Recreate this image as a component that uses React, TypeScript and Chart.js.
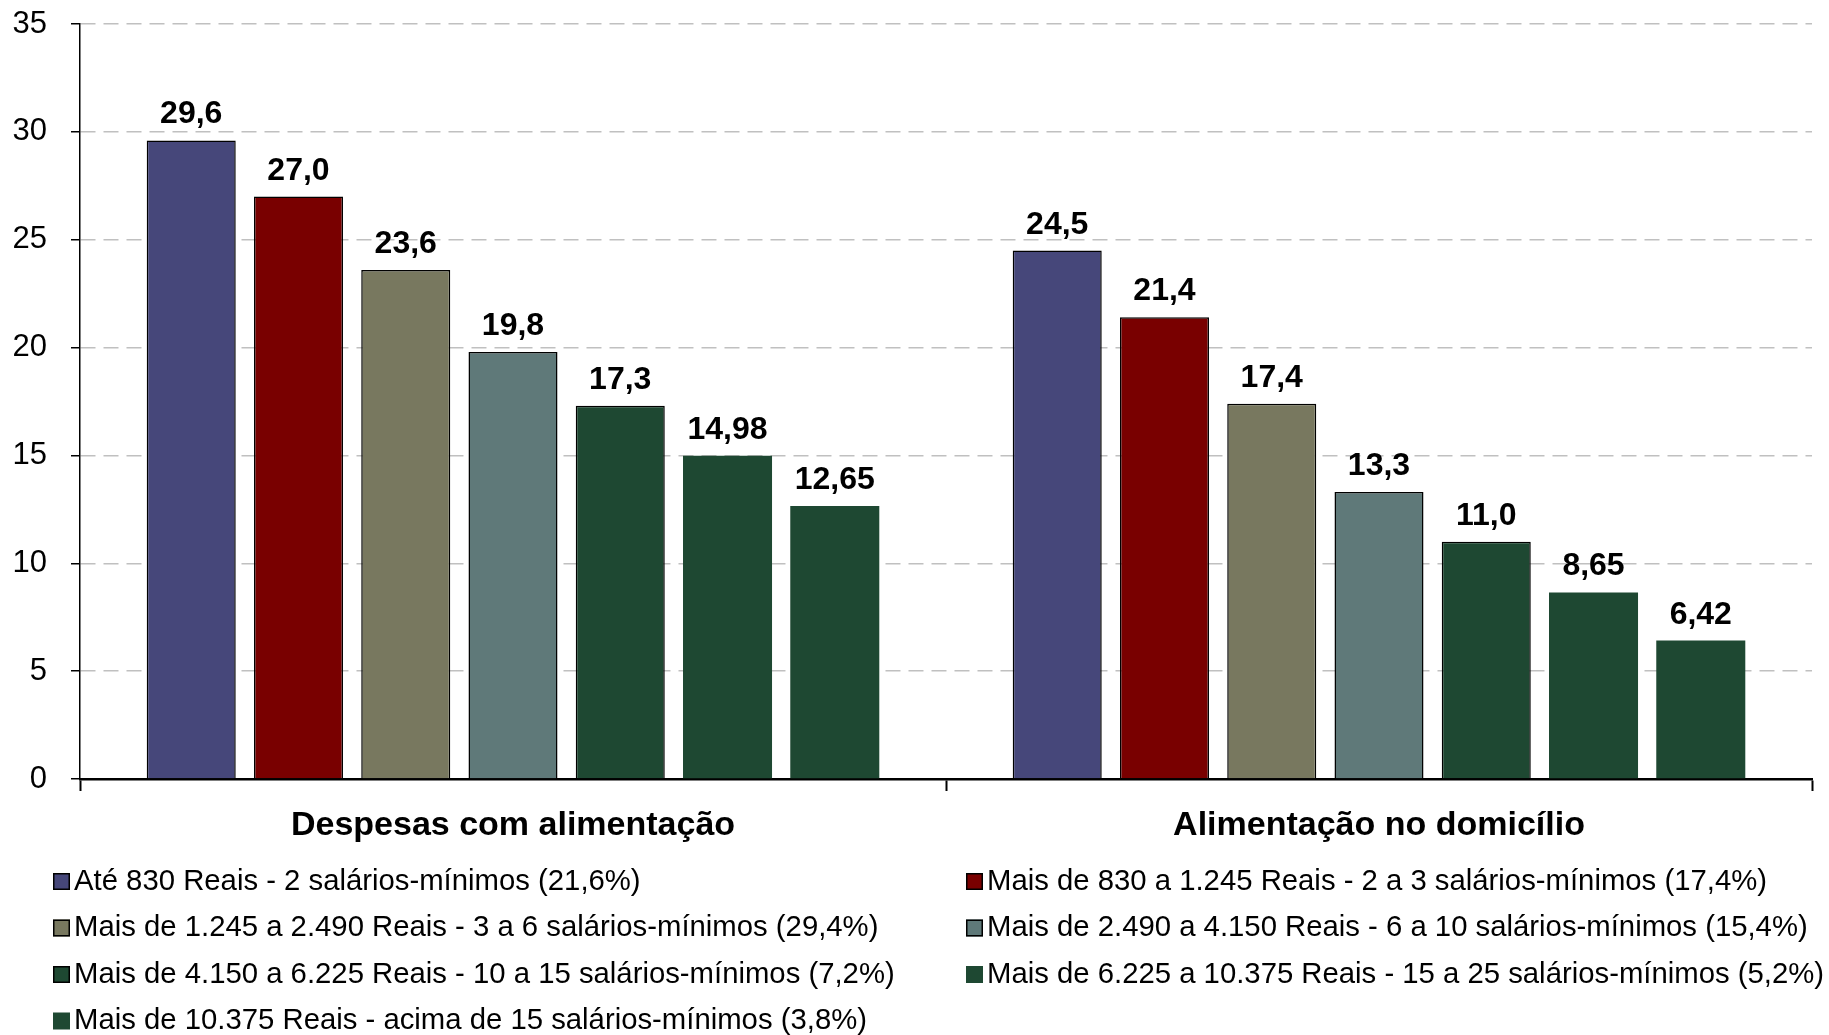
import React, { useEffect, useRef } from 'react';
import { Chart, registerables } from 'chart.js';

Chart.register(...registerables);

const categories = ['Despesas com alimentação', 'Alimentação no domicílio'];

const seriesLabels = [
  'Até 830 Reais - 2 salários-mínimos (21,6%)',
  'Mais de 830 a 1.245 Reais - 2 a 3 salários-mínimos (17,4%)',
  'Mais de 1.245 a 2.490 Reais - 3 a 6 salários-mínimos (29,4%)',
  'Mais de 2.490 a 4.150 Reais - 6 a 10 salários-mínimos (15,4%)',
  'Mais de 4.150 a 6.225 Reais - 10 a 15 salários-mínimos (7,2%)',
  'Mais de 6.225 a 10.375 Reais - 15 a 25 salários-mínimos (5,2%)',
  'Mais de 10.375 Reais - acima de 15 salários-mínimos (3,8%)',
];

const despesasValues = [29.6, 27.0, 23.6, 19.8, 17.3, 14.98, 12.65];
const domicilioValues = [24.5, 21.4, 17.4, 13.3, 11.0, 8.65, 6.42];
const labelDecimals = [1, 1, 1, 1, 1, 2, 2];

const yTickValues = [0, 5, 10, 15, 20, 25, 30, 35];

const seriesColors = ['#46477A', '#790000', '#78785F', '#5F7979', '#1E4832', '#1E4832', '#1E4832'];
const seriesBorderWidths = [1.5, 1.5, 1.5, 1.5, 1.5, 0, 0];

const FONT = '"Liberation Sans", Arial, sans-serif';

const fmt = (v: number, d: number) => v.toFixed(d).replace('.', ',');

const dataLabelPlugin = {
  id: 'dataLabels',
  afterDatasetsDraw(chart: any) {
    const ctx = chart.ctx;
    ctx.save();
    ctx.font = `bold 32px ${FONT}`;
    ctx.fillStyle = '#000';
    ctx.textAlign = 'center';
    ctx.textBaseline = 'alphabetic';
    chart.data.datasets.forEach((ds: any, i: number) => {
      const meta = chart.getDatasetMeta(i);
      meta.data.forEach((el: any, j: number) => {
        const v = ds.data[j];
        ctx.fillText(fmt(v, labelDecimals[i]), el.x, el.y - 17);
      });
    });
    ctx.restore();
  },
};

const legendPlugin = {
  id: 'gridLegend',
  afterDraw(chart: any) {
    const ctx = chart.ctx;
    ctx.save();
    ctx.font = `29.3px ${FONT}`;
    ctx.textBaseline = 'middle';
    ctx.textAlign = 'left';
    const colX = [53, 966];
    const box = 17;
    seriesLabels.forEach((label, i) => {
      const col = i % 2;
      const row = Math.floor(i / 2);
      const bx = colX[col];
      const cy = 881.5 + row * 46.5;
      ctx.fillStyle = seriesColors[i];
      ctx.fillRect(bx, cy - box / 2, box, box);
      if (seriesBorderWidths[i] > 0) {
        ctx.strokeStyle = '#000';
        ctx.lineWidth = 1.5;
        ctx.strokeRect(bx + 0.75, cy - box / 2 + 0.75, box - 1.5, box - 1.5);
      }
      ctx.fillStyle = '#000';
      ctx.fillText(label, bx + box + 4, cy);
    });
    ctx.restore();
  },
};

export default function App() {
  const canvasRef = useRef<HTMLCanvasElement | null>(null);

  useEffect(() => {
    if (!canvasRef.current) return;
    Chart.defaults.font.family = FONT;
    const datasets = seriesLabels.map((label, i) => ({
      label,
      data: [despesasValues[i], domicilioValues[i]],
      backgroundColor: seriesColors[i],
      borderColor: '#000',
      borderWidth: seriesBorderWidths[i],
      categoryPercentage: 0.867,
      barPercentage: 0.83,
    }));
    const chart = new Chart(canvasRef.current, {
      type: 'bar',
      data: { labels: categories, datasets },
      options: {
        responsive: false,
        animation: false,
        devicePixelRatio: 1,
        layout: { padding: { top: 24, left: 0, right: 17, bottom: 186 } },
        plugins: {
          legend: { display: false },
          tooltip: { enabled: false },
          title: { display: false },
        },
        scales: {
          x: {
            type: 'category',
            offset: true,
            grid: {
              display: true,
              offset: true,
              drawOnChartArea: false,
              drawTicks: true,
              tickLength: 12,
              tickColor: '#000',
              tickWidth: 2,
              color: '#000',
            },
            border: { display: true, color: '#000', width: 2.5 },
            ticks: {
              color: '#000',
              font: { size: 34, weight: 'bold', family: FONT },
              padding: 14,
              maxRotation: 0,
              autoSkip: false,
            },
            afterFit: (scale: any) => {
              scale.height = 70;
              scale.paddingTop = 0;
              scale.paddingBottom = 0;
            },
          },
          y: {
            type: 'linear',
            min: 0,
            max: 35,
            afterBuildTicks: (scale: any) => {
              scale.ticks = yTickValues.map((v) => ({ value: v }));
            },
            grid: {
              display: true,
              color: '#c0c0c0',
              lineWidth: 1.5,
              drawTicks: true,
              tickLength: 9,
              tickColor: '#000',
              tickWidth: 1.5,
              tickBorderDash: [],
            },
            border: { display: true, color: '#000', width: 1.5, dash: [15, 8] },
            ticks: {
              color: '#000',
              font: { size: 31, family: FONT },
              padding: 24,
            },
            afterFit: (scale: any) => {
              scale.width = 80;
              scale.paddingTop = 0;
              scale.paddingBottom = 0;
            },
          },
        },
      },
      plugins: [dataLabelPlugin, legendPlugin],
    } as any);
    return () => chart.destroy();
  }, []);

  return (
    <div style={{ position: 'fixed', left: 0, top: 0, width: 1829, height: 1035, background: '#fff' }}>
      <canvas ref={canvasRef} width={1829} height={1035} style={{ display: 'block' }} />
    </div>
  );
}
